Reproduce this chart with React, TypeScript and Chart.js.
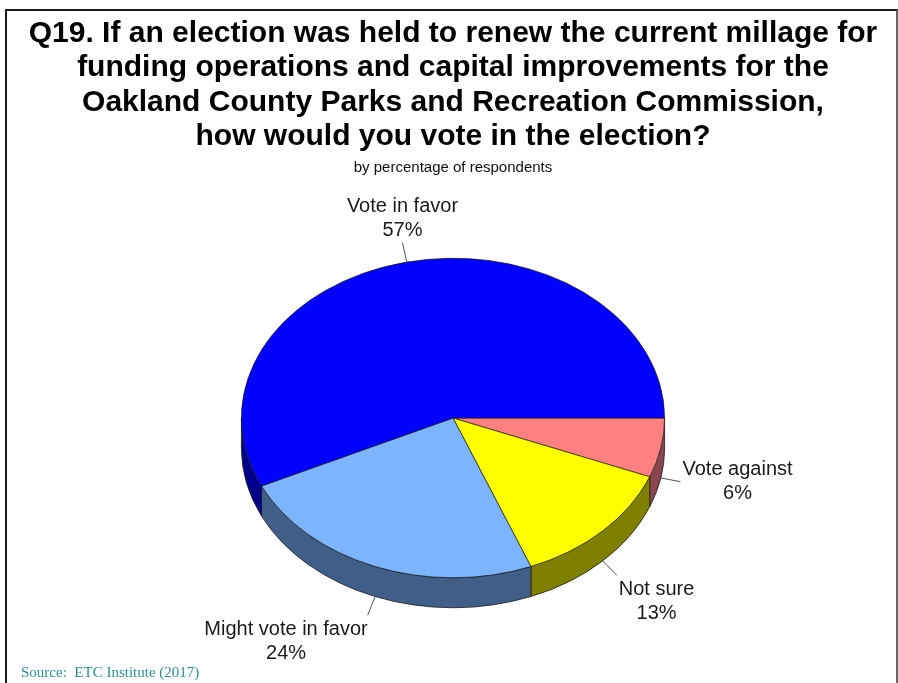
import React, { useEffect, useRef } from 'react';
import { Chart, registerables } from 'chart.js';

Chart.register(...registerables);

// ---- data ----
const categories = ['Vote against', 'Not sure', 'Might vote in favor', 'Vote in favor'];
const percents = [6, 13, 24, 57];
const topColors = ['#FF8080', '#FFFF00', '#7DB4FF', '#0000FF'];
const sideColors = ['#8A4650', '#808000', '#3F5F88', '#00008C'];
const titleLines = [
  'Q19. If an election was held to renew the current millage for',
  'funding operations and capital improvements for the',
  'Oakland County Parks and Recreation Commission,',
  'how would you vote in the election?',
];
const subtitleText = 'by percentage of respondents';
const sourceText = 'Source:  ETC Institute (2017)';

// ---- style ----
const SANS = '"Liberation Sans", Arial, Helvetica, sans-serif';
const TILT = 0.755;
const DEPTH = 30;
const LEAD = 20;
const LABEL_SIZE = 20;
const LABEL_LH = 24;

const pie3d = {
  id: 'pie3d',
  beforeDatasetsDraw(chart: any) {
    const meta = chart.getDatasetMeta(0);
    const arcs = meta.data;
    const ctx = chart.ctx as CanvasRenderingContext2D;
    if (!arcs.length) {
      ctx.save();
      return;
    }
    const { x: cx, y: cy, outerRadius: R } = arcs[0];
    const ry = R * TILT;
    const TWO_PI = Math.PI * 2;
    ctx.save();
    arcs.forEach((arc: any, i: number) => {
      const s = arc.startAngle;
      const e = arc.endAngle;
      for (const k of [-TWO_PI, 0, TWO_PI]) {
        const a = Math.max(s + k, 0);
        const b = Math.min(e + k, Math.PI);
        if (b <= a) continue;
        ctx.beginPath();
        ctx.ellipse(cx, cy, R, ry, 0, a, b, false);
        ctx.lineTo(cx + R * Math.cos(b), cy + ry * Math.sin(b) + DEPTH);
        ctx.ellipse(cx, cy + DEPTH, R, ry, 0, b, a, true);
        ctx.closePath();
        ctx.fillStyle = sideColors[i];
        ctx.fill();
        ctx.strokeStyle = '#1a1a1a';
        ctx.lineWidth = 0.8;
        ctx.stroke();
      }
    });
    ctx.restore();
    ctx.save();
    ctx.translate(cx, cy);
    ctx.scale(1, TILT);
    ctx.translate(-cx, -cy);
  },
  afterDatasetsDraw(chart: any) {
    chart.ctx.restore();
  },
  afterDraw(chart: any) {
    const meta = chart.getDatasetMeta(0);
    const arcs = meta.data;
    if (!arcs.length) return;
    const ctx = chart.ctx as CanvasRenderingContext2D;
    const { x: cx, y: cy, outerRadius: R } = arcs[0];
    const ry = R * TILT;
    ctx.save();
    arcs.forEach((arc: any, i: number) => {
      const mid = (arc.startAngle + arc.endAngle) / 2;
      const c = Math.cos(mid);
      const s = Math.sin(mid);
      const ax = cx + R * c;
      const ay = cy + ry * s + (s > 0 ? DEPTH : 0);
      const ex = ax + c * LEAD;
      const ey = ay + s * LEAD;
      ctx.beginPath();
      ctx.moveTo(ax, ay);
      ctx.lineTo(ex, ey);
      ctx.strokeStyle = '#555';
      ctx.lineWidth = 1;
      ctx.stroke();

      ctx.font = `${LABEL_SIZE}px ${SANS}`;
      const lines = [categories[i], `${percents[i]}%`];
      const w = Math.max(...lines.map((l) => ctx.measureText(l).width));
      const h = lines.length * LABEL_LH;
      let left: number;
      if (c > 0.3) left = ex + 2;
      else if (c < -0.3) left = ex - w;
      else left = ex - w / 2;
      let top: number;
      if (s > 0.5) top = ey + 2;
      else if (s < -0.5) top = ey - h;
      else top = ey - h / 2;
      ctx.fillStyle = '#1a1a1a';
      ctx.textAlign = 'center';
      ctx.textBaseline = 'middle';
      lines.forEach((l, j) => {
        ctx.fillText(l, left + w / 2, top + LABEL_LH / 2 + j * LABEL_LH);
      });
    });
    ctx.restore();
  },
};

export default function App() {
  const canvasRef = useRef<HTMLCanvasElement | null>(null);

  useEffect(() => {
    if (!canvasRef.current) return;
    const chart = new Chart(canvasRef.current, {
      type: 'pie',
      data: {
        labels: categories,
        datasets: [
          {
            data: percents,
            backgroundColor: topColors,
            borderColor: '#1a1a1a',
            borderWidth: 0.8,
            clip: false,
          } as any,
        ],
      },
      options: {
        responsive: false,
        animation: false,
        rotation: 90,
        layout: { padding: { left: 8, right: 0, top: 0, bottom: 53 } },
        plugins: {
          legend: { display: false },
          tooltip: { enabled: false },
          title: {
            display: true,
            text: titleLines,
            color: '#000',
            font: { family: SANS, size: 30, weight: 'bold', lineHeight: 1.15 },
            padding: { top: 16, bottom: 2 },
          },
          subtitle: {
            display: true,
            text: subtitleText,
            color: '#111',
            font: { family: SANS, size: 15, weight: 'normal', lineHeight: 1.2 },
            padding: { top: 3, bottom: 29 },
          },
        },
      } as any,
      plugins: [pie3d],
    });
    return () => chart.destroy();
  }, []);

  return (
    <div
      style={{
        position: 'absolute',
        left: 0,
        top: 0,
        width: 898,
        height: 683,
        overflow: 'hidden',
        background: '#fff',
      }}
    >
      <canvas
        ref={canvasRef}
        width={898}
        height={683}
        style={{ position: 'absolute', left: 0, top: 0, width: 898, height: 683 }}
      />
      <div
        style={{
          position: 'absolute',
          left: 5,
          top: 9,
          width: 889,
          height: 720,
          borderLeft: '2px solid #1a1a1a',
          borderTop: '2px solid #1a1a1a',
          borderRight: '2px solid #666',
          pointerEvents: 'none',
        }}
      />
      <div
        style={{
          position: 'absolute',
          left: 21,
          top: 663,
          fontFamily: '"Liberation Serif", "Times New Roman", serif',
          fontSize: 15,
          color: '#2f8f8f',
          whiteSpace: 'pre',
          lineHeight: '18px',
        }}
      >
        {sourceText}
      </div>
    </div>
  );
}
